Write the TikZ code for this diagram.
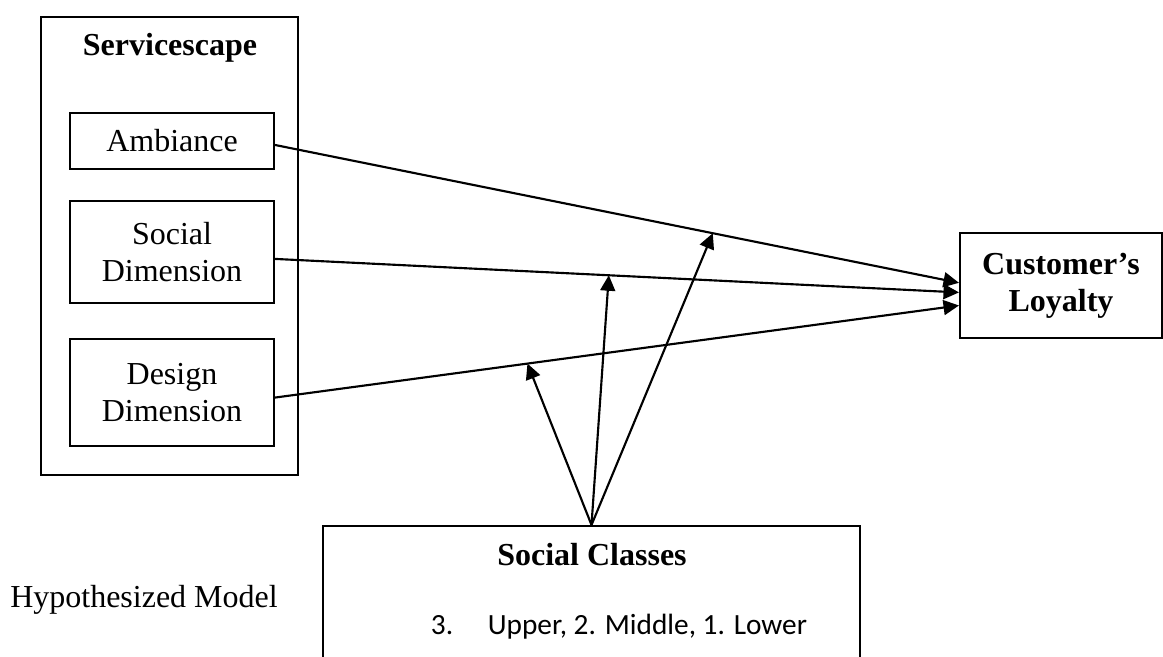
\documentclass[tikz,border=0pt]{standalone}
\usepackage{fontspec}
\setmainfont{Liberation Serif}
\newfontfamily\calibri{Carlito}
\usetikzlibrary{arrows.meta}

\begin{document}
\begin{tikzpicture}[x=0.01318cm,y=-0.01318cm,
  box/.style={draw,line width=0.8pt,inner sep=0pt,align=center},
  link/.style={line width=0.8pt},
  tip/.style={-{Triangle[length=5.8pt,width=5.6pt]}},
  font=\fontsize{12}{13.9}\selectfont]
\useasboundingbox (0,0) rectangle (1163,657);
  \node [box, minimum width=3.387cm, minimum height=6.036cm] (scape) at (169.5,246) {};
  \node [font=\fontsize{12}{13.9}\selectfont\bfseries] (scapetitle) at (170,48) {Servicescape};
  \node [box, minimum width=2.69cm, minimum height=0.74cm] (amb) at (172,141) {Ambiance};
  \node [box, minimum width=2.69cm, minimum height=1.35cm] (soc) at (172,252) {Social\\Dimension};
  \node [box, minimum width=2.69cm, minimum height=1.40cm] (des) at (172,392.5) {Design\\Dimension};
  \node [box, minimum width=2.662cm, minimum height=1.384cm,
         font=\fontsize{12}{13.9}\selectfont\bfseries] (loy) at (1061,285.5) {Customer’s\\Loyalty};
  \node [box, minimum width=7.078cm, minimum height=2.109cm] (cls) at (591.5,606) {};
  \node [font=\fontsize{12}{13.9}\selectfont\bfseries] (clstitle) at (592,555) {Social Classes};
  \node [font=\fontsize{11}{13}\calibri] (clslist) at (619,627) {3.\hspace{13pt}Upper, 2. Middle, 1. Lower};
  \node (caption) at (144,600) {Hypothesized Model};

  \draw [link, tip] ([yshift=-1.5pt]amb.east) -- coordinate[pos=.64] (hA) ([yshift=1pt]loy.west);
  \draw [link, tip] ([yshift=-2.6pt]soc.east) -- coordinate[pos=.488] (hS) ([yshift=-2.6pt]loy.west);
  \draw [link, tip] ([yshift=-1.9pt]des.east) -- coordinate[pos=.369] (hD) ([yshift=-7.5pt]loy.west);
  \draw [link, tip] (cls.north) -- (hA);
  \draw [link, tip] (cls.north) -- (hS);
  \draw [link, tip] (cls.north) -- (hD);
\end{tikzpicture}
\end{document}
